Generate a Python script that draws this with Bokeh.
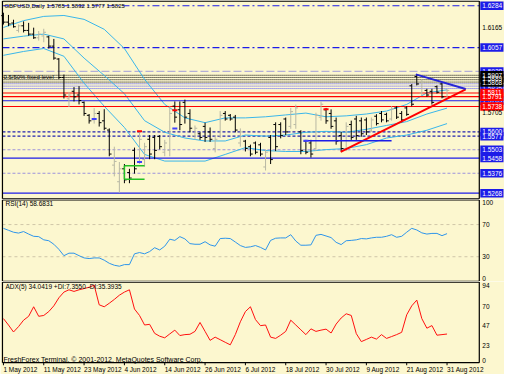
from bokeh.plotting import figure
from bokeh.layouts import column
from bokeh.models import Range1d, ColumnDataSource
from bokeh.core.properties import value
from bokeh.embed import file_html
from bokeh.resources import INLINE

# ---------------- data ----------------
title_text = "GBPUSD,Daily  1.5785 1.5832 1.5777 1.5825"

high = [1.6246, 1.6234, 1.6208, 1.6182, 1.6199, 1.6191, 1.6165, 1.6147, 1.6159, 1.6121,
        1.6104, 1.6000, 1.5911, 1.5817, 1.5843, 1.5848, 1.5765, 1.5697, 1.5729, 1.5713,
        1.5723, 1.5619, 1.5520, 1.5437, 1.5426, 1.5400, 1.5515, 1.5598, 1.5541, 1.5583,
        1.5583, 1.5583, 1.5557, 1.5739, 1.5765, 1.5765, 1.5775, 1.5723, 1.5635, 1.5598,
        1.5650, 1.5624, 1.5583, 1.5713, 1.5713, 1.5697, 1.5692, 1.5619, 1.5557, 1.5531,
        1.5548, 1.5541, 1.5505, 1.5583, 1.5652, 1.5652, 1.5678, 1.5730, 1.5748, 1.5609,
        1.5557, 1.5557, 1.5704, 1.5765, 1.5730, 1.5722, 1.5678, 1.5600, 1.5652, 1.5661,
        1.5687, 1.5678, 1.5678, 1.5678, 1.5696, 1.5713, 1.5704, 1.5739, 1.5739, 1.5713,
        1.5739, 1.5860, 1.5912, 1.5886, 1.5834, 1.5834, 1.5852, 1.5869, 1.5832]
low = [1.6182, 1.6173, 1.6165, 1.6139, 1.6139, 1.6121, 1.6104, 1.6095, 1.6086, 1.6052,
       1.5991, 1.5886, 1.5781, 1.5735, 1.5765, 1.5749, 1.5687, 1.5645, 1.5645, 1.5629,
       1.5609, 1.5468, 1.5359, 1.5270, 1.5322, 1.5322, 1.5374, 1.5426, 1.5411, 1.5452,
       1.5452, 1.5505, 1.5468, 1.5468, 1.5650, 1.5609, 1.5645, 1.5598, 1.5557, 1.5557,
       1.5546, 1.5546, 1.5489, 1.5567, 1.5661, 1.5661, 1.5598, 1.5520, 1.5494, 1.5468,
       1.5479, 1.5468, 1.5391, 1.5426, 1.5496, 1.5565, 1.5583, 1.5617, 1.5617, 1.5479,
       1.5479, 1.5461, 1.5496, 1.5661, 1.5644, 1.5617, 1.5531, 1.5496, 1.5496, 1.5557,
       1.5557, 1.5574, 1.5583, 1.5600, 1.5635, 1.5652, 1.5652, 1.5661, 1.5670, 1.5652,
       1.5687, 1.5739, 1.5852, 1.5800, 1.5791, 1.5748, 1.5808, 1.5782, 1.5777]
opn = [1.6230, 1.6195, 1.6190, 1.6150, 1.6175, 1.6150, 1.6130, 1.6110, 1.6120, 1.6115,
       1.6065, 1.5995, 1.5895, 1.5780, 1.5820, 1.5800, 1.5760, 1.5690, 1.5665, 1.5700,
       1.5660, 1.5610, 1.5420, 1.5330, 1.5400, 1.5380, 1.5500, 1.5440, 1.5450, 1.5560,
       1.5570, 1.5575, 1.5490, 1.5500, 1.5740, 1.5720, 1.5760, 1.5700, 1.5580, 1.5590,
       1.5630, 1.5600, 1.5510, 1.5580, 1.5700, 1.5690, 1.5680, 1.5540, 1.5550, 1.5520,
       1.5540, 1.5530, 1.5410, 1.5570, 1.5640, 1.5640, 1.5670, 1.5630, 1.5640, 1.5600,
       1.5550, 1.5540, 1.5510, 1.5680, 1.5720, 1.5700, 1.5660, 1.5580, 1.5510, 1.5640,
       1.5670, 1.5660, 1.5665, 1.5610, 1.5685, 1.5700, 1.5695, 1.5670, 1.5730, 1.5700,
       1.5730, 1.5850, 1.5900, 1.5810, 1.5825, 1.5820, 1.5845, 1.5860, 1.5785]
cls = [1.6195, 1.6185, 1.6170, 1.6175, 1.6150, 1.6130, 1.6110, 1.6130, 1.6140, 1.6065,
       1.6000, 1.5895, 1.5800, 1.5800, 1.5790, 1.5770, 1.5700, 1.5660, 1.5700, 1.5650,
       1.5620, 1.5480, 1.5440, 1.5400, 1.5340, 1.5350, 1.5400, 1.5560, 1.5520, 1.5480,
       1.5500, 1.5520, 1.5540, 1.5700, 1.5680, 1.5640, 1.5680, 1.5620, 1.5620, 1.5570,
       1.5570, 1.5560, 1.5560, 1.5690, 1.5670, 1.5670, 1.5610, 1.5600, 1.5510, 1.5480,
       1.5490, 1.5480, 1.5490, 1.5450, 1.5520, 1.5580, 1.5600, 1.5710, 1.5730, 1.5500,
       1.5490, 1.5480, 1.5690, 1.5750, 1.5660, 1.5630, 1.5550, 1.5510, 1.5630, 1.5570,
       1.5580, 1.5590, 1.5600, 1.5665, 1.5645, 1.5665, 1.5660, 1.5725, 1.5680, 1.5665,
       1.5695, 1.5750, 1.5860, 1.5870, 1.5800, 1.5760, 1.5815, 1.5790, 1.5825]

band_x = [0, 4, 8, 12, 16, 20, 24, 28, 32, 36, 40, 44, 48, 52, 56, 60, 64, 68, 72, 76, 80, 84, 88]
band_up = [1.6166, 1.6203, 1.6226, 1.6231, 1.6210, 1.6156, 1.6052, 1.5885, 1.5749, 1.5676, 1.5650, 1.5676,
           1.5676, 1.5682, 1.5692, 1.5702, 1.5682, 1.5687, 1.5697, 1.5713, 1.5749, 1.5812, 1.5828]
band_mid = [1.6104, 1.6119, 1.6130, 1.6104, 1.6000, 1.5906, 1.5807, 1.5661, 1.5598, 1.5567, 1.5551, 1.5551,
            1.5583, 1.5577, 1.5583, 1.5598, 1.5603, 1.5598, 1.5614, 1.5635, 1.5656, 1.5697, 1.5729]
band_lo = [1.6015, 1.6036, 1.6052, 1.6010, 1.5864, 1.5739, 1.5624, 1.5478, 1.5442, 1.5442, 1.5442, 1.5478,
           1.5515, 1.5499, 1.5494, 1.5494, 1.5504, 1.5510, 1.5531, 1.5567, 1.5583, 1.5609, 1.5645]

rsi = [65.3, 62.9, 60.5, 59.4, 61.3, 58.2, 55.4, 55.0, 51.0, 49.9, 45.5, 39.2, 31.3, 34.4, 34.4, 31.3,
       28.5, 27.7, 28.5, 28.5, 25.7, 21.8, 19.4, 18.2, 20.2, 20.2, 33.6, 35.2, 33.6, 36.4, 41.2, 38.4,
       43.1, 51.8, 50.3, 55.0, 52.2, 46.3, 45.5, 45.5, 48.7, 44.7, 43.1, 52.6, 53.0, 52.6, 48.3, 43.9,
       41.6, 42.3, 43.9, 41.6, 38.4, 50.3, 53.0, 53.4, 53.4, 57.4, 49.5, 44.3, 44.3, 44.7, 56.6, 57.8,
       55.8, 53.8, 47.9, 45.1, 49.9, 50.3, 51.0, 52.6, 52.2, 53.4, 54.2, 54.2, 55.4, 57.4, 54.2, 55.4,
       60.5, 65.3, 63.3, 59.7, 58.2, 59.0, 59.0, 56.2, 58.7]
adx = [52.3, 44.7, 36.4, 42.8, 50.4, 55.0, 66.3, 55.0, 56.0, 60.6, 67.4, 76.9, 83.7, 86.4, 84.5, 86.4,
       87.9, 89.4, 92.0, 68.6, 66.3, 70.5, 75.0, 80.0, 83.7, 86.4, 63.6, 56.0, 44.7, 45.5, 34.8, 31.4,
       29.5, 34.1, 38.6, 32.2, 33.3, 33.7, 37.1, 47.7, 37.1, 26.5, 30.3, 27.3, 24.2, 21.2, 33.3, 48.5,
       60.6, 66.3, 51.1, 43.9, 44.7, 30.3, 28.8, 32.6, 37.1, 50.4, 44.7, 39.0, 33.3, 40.1, 37.1, 38.6,
       39.8, 35.2, 45.8, 53.0, 58.0, 56.0, 34.5, 25.0, 27.6, 30.3, 28.0, 33.3, 28.8, 31.0, 33.3, 36.0,
       56.8, 67.4, 74.2, 52.3, 40.9, 44.0, 32.6, 33.3, 34.0]

date_idx = [0, 8, 16, 24, 32, 40, 48, 56, 64, 72, 80, 88]
date_lbl = ["1 May 2012", "11 May 2012", "23 May 2012", "4 Jun 2012", "14 Jun 2012", "26 Jun 2012",
            "6 Jul 2012", "18 Jul 2012", "30 Jul 2012", "9 Aug 2012", "21 Aug 2012", "31 Aug 2012"]

# horizontal levels (price) by style
lv_blue_dashdot = [1.6284, 1.6057]
lv_grey_dash = [1.5928]
lv_black_dot = [1.5907, 1.5895, 1.5883, 1.5870]
lv_blue_dot = [1.5861, 1.5848, 1.5835]
lv_red = [1.5811, 1.5791, 1.5738]
lv_blue_solid = [1.5769, 1.5458, 1.5268]
lv_blue_dash = [1.5600, 1.5577]
lv_lav_dash = [1.5503, 1.5376]

# price-scale labels
lab_blue = [1.6284, 1.6057, 1.5928, 1.5835, 1.5769, 1.5600, 1.5577, 1.5503, 1.5458, 1.5376, 1.5268]
lab_black = [1.5907, 1.5868, 1.5889]
lab_red = [1.5791, 1.5811, 1.5738]
lab_plain = [1.6165, 1.5705]

rsi_levels = [70, 30]
rsi_ticks = [100, 70, 30, 0]
adx_ticks = [94, 70, 47, 23, 0]

# drawn objects
trend_red = ([66.9, 91.7], [1.5492, 1.5831])
trend_blue = ([81.8, 91.7], [1.5912, 1.5833])
green_box = ([24, 28], [1.5417, 1.5343])
blue_seg = ([59.7, 77.0], [1.5552, 1.5552])
red_mark_x = [27, 34, 64]
red_mark_y = [1.5604, 1.5718, 1.5723]
blue_mark_x = [18, 27, 34, 60]
blue_mark_y = [1.5670, 1.5437, 1.5619, 1.5552]

# ---------------- style ----------------
BG = "#fcf7cf"
FONT = value("Liberation Sans")
BLUE = "#1c1ce8"
RED = "#ff0000"
GREYBAR = "#b8b8a4"
XL, XR = -0.19, 94.4
xr = Range1d(-0.58, 99.4)


def mk(h, y0, y1):
    p = figure(width=504, height=h, x_range=xr, y_range=Range1d(y0, y1),
               output_backend="svg", toolbar_location=None, min_border=0)
    p.axis.visible = False
    p.grid.visible = False
    p.outline_line_color = None
    p.background_fill_color = BG
    p.border_fill_color = BG
    return p


def txt(p, x, y, t, size="6.5px", color="black", align="left", base="middle"):
    p.text(x=x, y=y, text=t, text_font=FONT, text_font_size=size, text_color=color,
           text_align=align, text_baseline=base)


# ---------------- main panel ----------------
PTOP, PBOT = 1.63122, 1.52337
pm = mk(199, PBOT, PTOP)


def hl(levels, color, dash="solid", width=1.0):
    pm.segment(x0=[XL] * len(levels), y0=levels, x1=[XR] * len(levels), y1=levels,
               line_color=color, line_dash=dash, line_width=width)


hl(lv_blue_dashdot, BLUE, "7 3 2 3", 1.1)
hl(lv_grey_dash, "#b3aed6", "8 3", 1.1)
hl(lv_black_dot, "black", "1 1", 1)
hl(lv_blue_dot, "#5050ff", "1 1", 1)
hl(lv_blue_dash, "#2020b0", "3 2", 1.1)
hl(lv_lav_dash, "#9c92dc", "3 2", 1.1)

# bands
for b in (band_up, band_mid, band_lo):
    pm.line(band_x, b, line_color="#3ab6ea", line_width=1)

hl(lv_red, RED, "solid", 1.1)
hl(lv_blue_solid, BLUE, "solid", 1.2)

# bars
idx = list(range(len(high)))
bar_col = [GREYBAR if c > o else "black" for o, c in zip(opn, cls)]
src = ColumnDataSource(dict(x=idx, xl=[i - 0.45 for i in idx], xr=[i + 0.45 for i in idx],
                            h=high, l=low, o=opn, c=cls, col=bar_col))
pm.segment(x0="x", y0="l", x1="x", y1="h", source=src, line_color="col", line_width=1)
pm.segment(x0="xl", y0="o", x1="x", y1="o", source=src, line_color="col", line_width=1)
pm.segment(x0="x", y0="c", x1="xr", y1="c", source=src, line_color="col", line_width=1)

# drawn objects
pm.line(trend_red[0], trend_red[1], line_color=RED, line_width=2)
pm.line(trend_blue[0], trend_blue[1], line_color="#2626d6", line_width=2)
gx, gy = green_box
pm.segment(x0=[gx[0], gx[0], gx[0]], y0=[gy[0], gy[1], gy[0]],
           x1=[gx[1], gx[1], gx[0]], y1=[gy[0], gy[1], gy[1]], line_color="#22c022", line_width=1.5)
pm.line(blue_seg[0], blue_seg[1], line_color=BLUE, line_width=1.5)
pm.scatter(red_mark_x, red_mark_y, marker="dash", size=5, line_color=RED, line_width=2)
pm.scatter(blue_mark_x, blue_mark_y, marker="dash", size=5, line_color="#4040ff", line_width=2)

# frame
pm.segment(x0=[XL, XR, XL, XL], y0=[PBOT + 0.00035, PBOT + 0.00035, PTOP - 0.0003, PBOT + 0.00035],
           x1=[XL, XR, XR, XR], y1=[PTOP - 0.0003, PTOP - 0.0003, PTOP - 0.0003, PBOT + 0.00035],
           line_color="black", line_width=1.2)

# price-scale labels
BX, BW, BH = 96.9, 4.6, 0.0046
pm.rect(x=[BX] * len(lab_blue), y=lab_blue, width=BW, height=BH, fill_color=BLUE, line_color=None)
for v in lab_blue:
    txt(pm, 95.0, v, [f"{v:.4f}"], color="white")
pm.rect(x=[BX] * len(lab_black), y=lab_black, width=BW, height=BH, fill_color="black", line_color=None)
for v in lab_black:
    txt(pm, 95.0, v, [f"{v:.4f}"], color="white")
pm.rect(x=[BX] * len(lab_red), y=lab_red, width=BW, height=BH, fill_color=RED, line_color=None)
for v in lab_red:
    txt(pm, 95.0, v, [f"{v:.4f}"], color="white")
for v in lab_plain:
    txt(pm, 95.0, v, [f"{v:.4f}"])

txt(pm, 0.2, 1.6284, [title_text], size="6px")
txt(pm, 0.0, 1.5896, ["0.5/50% fixed level"], size="6px")

# ---------------- RSI panel ----------------
pr = mk(82, -0.83, 101.19)
pr.segment(x0=[XL] * 2, y0=rsi_levels, x1=[XR] * 2, y1=rsi_levels,
           line_color="#cfc6a8", line_dash="3 3", line_width=1)
pr.line(idx, rsi, line_color="#2e95ea", line_width=1)
pr.segment(x0=[XL, XR, XL, XL], y0=[-0.5, -0.5, 100.6, -0.5], x1=[XL, XR, XR, XR], y1=[100.6, 100.6, 100.6, -0.5],
           line_color="black", line_width=1.2)
txt(pr, 0.4, 96.5, ["RSI(14) 58.6831"], size="6.5px")
for v in rsi_ticks:
    base = "top" if v == 100 else ("bottom" if v == 0 else "middle")
    txt(pr, 95.0, v, [str(v)], base=base)

# ---------------- ADX panel ----------------
pa = mk(93, -13.98, 96.25)
pa.line(idx, adx, line_color="#ff1010", line_width=1)
pa.segment(x0=[XL, XR, XL, XL], y0=[0, 0, 95.6, 0], x1=[XL, XR, XR, XR], y1=[95.6, 95.6, 95.6, 0],
           line_color="black", line_width=1.2)
txt(pa, 0.4, 90.5, ["ADX(5) 34.0419 +DI:7.3550 -DI:35.3935"], size="6.5px")
txt(pa, 0.0, 4.2, ["FreshForex Terminal, \u00a9 2001-2012, MetaQuotes Software Corp."], size="7px")
for v in adx_ticks:
    base = "bottom" if v == 0 else "top"
    txt(pa, 95.0, v, [str(v)], base=base)
pa.segment(x0=date_idx, y0=[0] * len(date_idx), x1=date_idx, y1=[-3] * len(date_idx),
           line_color="black", line_width=1)
for i, t in zip(date_idx, date_lbl):
    txt(pa, i, -8.3, [t], size="6.5px")

layout = column(pm, pr, pa, spacing=0)
open("out.html", "w").write(file_html(layout, INLINE))
